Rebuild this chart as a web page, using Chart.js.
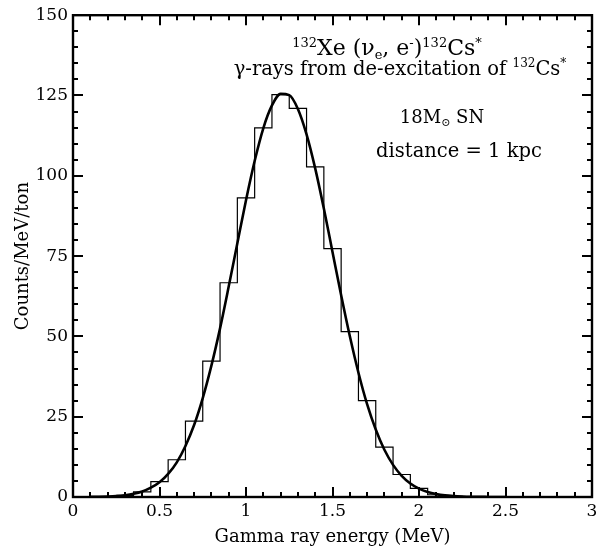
<!DOCTYPE html>
<html>
<head>
<meta charset="utf-8">
<script src="https://cdn.jsdelivr.net/npm/chart.js@4/dist/chart.umd.min.js"></script>
<style>
  html, body { margin: 0; padding: 0; background: #fff; }
  #wrap { width: 602px; height: 552px; }
</style>
</head>
<body>
<div id="wrap"><canvas id="gammaChart" width="602" height="552"></canvas></div>
<script>
// histogram bins (center energy in MeV, counts/MeV/ton), bin width 0.1
const binCenters = [0.3, 0.4, 0.5, 0.6, 0.7, 0.8, 0.9, 1.0, 1.1, 1.2, 1.3, 1.4, 1.5, 1.6, 1.7, 1.8, 1.9, 2.0, 2.1, 2.2];
const binCounts = [0.5, 1.6, 4.8, 11.6, 23.6, 42.3, 66.7, 93.1, 114.9, 125.3, 121.0, 102.8, 77.3, 51.5, 30.0, 15.5, 7.0, 2.7, 0.7, 0.2];
const binWidth = 0.1;

// smooth curve
const curveE = [0.10, 0.15, 0.20, 0.25, 0.30, 0.35, 0.40, 0.45, 0.50, 0.55, 0.60, 0.65, 0.70, 0.75, 0.80, 0.85, 0.90, 0.95, 1.00, 1.05, 1.10, 1.15, 1.20, 1.25, 1.30, 1.35, 1.40, 1.45, 1.50, 1.55, 1.60, 1.65, 1.70, 1.75, 1.80, 1.85, 1.90, 1.95, 2.00, 2.05, 2.10, 2.15, 2.20, 2.25, 2.30, 2.40, 2.50];
const curveY = [0.04, 0.09, 0.17, 0.31, 0.57, 1.0, 1.7, 2.9, 4.6, 7.2, 10.8, 15.9, 22.4, 30.8, 40.9, 52.5, 65.5, 79.0, 92.4, 104.6, 114.8, 121.9, 125.5, 125.1, 120.8, 112.9, 102.3, 89.8, 76.3, 62.8, 50.1, 38.7, 28.9, 21.0, 14.7, 10.0, 6.6, 4.2, 2.6, 1.55, 0.9, 0.5, 0.28, 0.15, 0.07, 0.02, 0.005];

// axis ticks
const xTicks = [0, 0.5, 1, 1.5, 2, 2.5, 3];
const yTicks = [0, 25, 50, 75, 100, 125, 150];
const xMinorStep = 0.1;
const yMinorStep = 5;

const FONT = "'DejaVu Serif', serif";

// histogram outline as a step line from bin edges
const histPoints = binCenters.map((c, i) => ({ x: c - binWidth / 2, y: binCounts[i] }));
histPoints.push({ x: binCenters[binCenters.length - 1] + binWidth / 2, y: 0 });

const curvePoints = curveE.map((e, i) => ({ x: e, y: curveY[i] }));

// frame with inward ticks on all four sides
const frameTicks = {
  id: "frameTicks",
  afterDraw(chart) {
    const { ctx, chartArea: a, scales } = chart;
    const xs = scales.x, ys = scales.y;
    ctx.save();
    ctx.strokeStyle = "#000";
    ctx.lineWidth = 2.4;
    ctx.strokeRect(a.left, a.top, a.right - a.left, a.bottom - a.top);

    const major = 10, minor = 5;
    ctx.lineWidth = 2;
    ctx.beginPath();
    for (let v = xs.min; v <= xs.max + 1e-9; v += xMinorStep) {
      const val = Math.round(v * 10) / 10;
      const px = Math.round(xs.getPixelForValue(val));
      const len = xTicks.includes(val) ? major : minor;
      ctx.moveTo(px, a.bottom); ctx.lineTo(px, a.bottom - len);
      ctx.moveTo(px, a.top); ctx.lineTo(px, a.top + len);
    }
    for (let v = ys.min; v <= ys.max + 1e-9; v += yMinorStep) {
      const py = Math.round(ys.getPixelForValue(v));
      const len = yTicks.includes(v) ? major : minor;
      ctx.moveTo(a.left, py); ctx.lineTo(a.left + len, py);
      ctx.moveTo(a.right, py); ctx.lineTo(a.right - len, py);
    }
    ctx.stroke();
    ctx.restore();
  }
};

// rich text: parts of [text, size, baseline shift]
function drawRich(ctx, parts, cx, y) {
  let total = 0;
  parts.forEach(p => { ctx.font = p[1] + "px " + FONT; total += ctx.measureText(p[0]).width; });
  let x = cx - total / 2;
  parts.forEach(p => {
    ctx.font = p[1] + "px " + FONT;
    ctx.fillText(p[0], x, y + (p[2] || 0));
    x += ctx.measureText(p[0]).width;
  });
}

const labels = {
  id: "labels",
  afterDraw(chart) {
    const ctx = chart.ctx;
    ctx.save();
    ctx.fillStyle = "#000";
    ctx.textBaseline = "alphabetic";
    drawRich(ctx, [["132", 13, -8], ["Xe (", 22], ["\u03bd", 22], ["e", 13, 4], [", e", 22], ["-", 13, -8], [")", 22], ["132", 13, -8], ["Cs", 22], ["*", 13, -8]], 387, 55);
    drawRich(ctx, [["\u03b3-rays from de-excitation of ", 19.5], ["132", 12, -8], ["Cs", 19.5], ["*", 12, -8]], 400, 75);
    drawRich(ctx, [["18M", 18], ["\u2299", 11, 3], [" SN", 18]], 442, 123);
    drawRich(ctx, [["distance = 1 kpc", 19.5]], 459, 157);
    ctx.restore();
  }
};

new Chart(document.getElementById("gammaChart").getContext("2d"), {
  type: "line",
  data: {
    datasets: [
      {
        label: "histogram",
        data: histPoints,
        stepped: "before",
        borderColor: "#000",
        borderWidth: 1.2,
        pointRadius: 0,
        fill: false,
      },
      {
        label: "curve",
        data: curvePoints,
        borderColor: "#000",
        borderWidth: 2.6,
        pointRadius: 0,
        cubicInterpolationMode: "monotone",
        fill: false,
      },
    ],
  },
  options: {
    responsive: false,
    animation: false,
    layout: { padding: { left: 0, right: 10, top: 14, bottom: 0 } },
    plugins: { legend: { display: false }, tooltip: { enabled: false } },
    scales: {
      x: {
        type: "linear",
        min: 0,
        max: 3,
        afterBuildTicks: (s) => { s.ticks = xTicks.map(v => ({ value: v })); },
        afterFit: (s) => { s.height = 55; },
        grid: { display: false, drawTicks: false },
        border: { display: false },
        ticks: { color: "#000", font: { family: FONT, size: 17 }, padding: 4, maxRotation: 0, callback: (v) => String(v) },
        title: { display: true, text: "Gamma ray energy (MeV)", color: "#000", font: { family: FONT, size: 18 }, padding: { top: 4 } },
      },
      y: {
        type: "linear",
        min: 0,
        max: 150,
        afterBuildTicks: (s) => { s.ticks = yTicks.map(v => ({ value: v })); },
        afterFit: (s) => { s.width = 73; },
        grid: { display: false, drawTicks: false },
        border: { display: false },
        ticks: { color: "#000", font: { family: FONT, size: 17 }, padding: 5, callback: (v) => String(v) },
        title: { display: true, text: "Counts/MeV/ton", color: "#000", font: { family: FONT, size: 18 }, padding: { top: 13, bottom: 0 } },
      },
    },
  },
  plugins: [frameTicks, labels],
});
</script>
</body>
</html>
